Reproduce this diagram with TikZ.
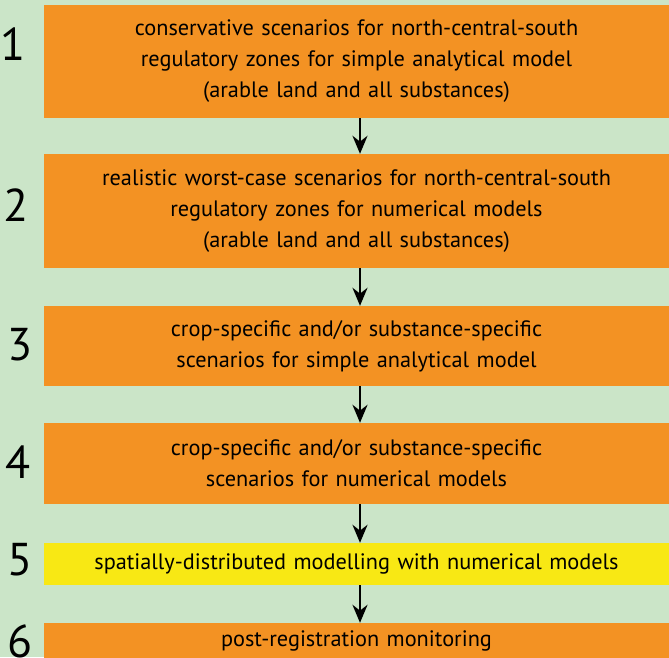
\documentclass[tikz,border=0pt]{standalone}
\usepackage{fontspec}
\setmainfont{PT Sans}
\usetikzlibrary{positioning,arrows.meta}

\definecolor{bggreen}{RGB}{203,229,200}
\definecolor{stageorange}{RGB}{243,146,35}
\definecolor{stageyellow}{RGB}{248,232,20}

\begin{document}
\begin{tikzpicture}[x=1pt,y=-1pt,
  stage/.style={fill=stageorange, minimum width=625pt, text width=615pt,
    align=center, inner sep=0pt, font=\fontsize{22.3}{31}\selectfont},
  num/.style={font=\fontsize{46}{46}\selectfont, inner sep=0pt},
  flow/.style={-{Stealth[length=18pt,width=15pt]}, line width=2.5pt}]
\fill[bggreen] (0,0) rectangle (669,657);
\useasboundingbox (0,0) rectangle (669,657);
\clip (0,0) rectangle (669,657);

% stages
\node[stage, minimum height=113pt] (s1) at (356.5,61.5)
  {conservative scenarios for north-central-south\\regulatory zones for simple analytical model\\(arable land and all substances)};
\node[stage, minimum height=114pt] (s2) at (356.5,211)
  {realistic worst-case scenarios for north-central-south\\regulatory zones for numerical models\\(arable land and all substances)};
\node[stage, minimum height=80pt] (s3) at (356.5,346)
  {crop-specific and/or substance-specific\\scenarios for simple analytical model};
\node[stage, minimum height=81pt] (s4) at (356.5,463.5)
  {crop-specific and/or substance-specific\\scenarios for numerical models};
\node[stage, fill=stageyellow, minimum height=42pt] (s5) at (356.5,564)
  {spatially-distributed modelling with numerical models};
\node[stage, minimum height=36pt] (s6) at (356.5,641)
  {post-registration monitoring};

% numbers
\node[num] (n1) at (13,44) {1};
\node[num] (n2) at (16,205) {2};
\node[num] (n3) at (20,345) {3};
\node[num] (n4) at (18,462) {4};
\node[num] (n5) at (20,560) {5};
\node[num] (n6) at (20,641) {6};

% arrows
\draw[flow] ([xshift=3.5pt]s1.south) -- ([xshift=3.5pt]s2.north);
\draw[flow] ([xshift=3.5pt]s2.south) -- ([xshift=3.5pt]s3.north);
\draw[flow] ([xshift=3.5pt]s3.south) -- ([xshift=3.5pt]s4.north);
\draw[flow] ([xshift=3.5pt]s4.south) -- ([xshift=3.5pt]s5.north);
\draw[flow] ([xshift=3.5pt]s5.south) -- ([xshift=3.5pt]s6.north);
\end{tikzpicture}
\end{document}
